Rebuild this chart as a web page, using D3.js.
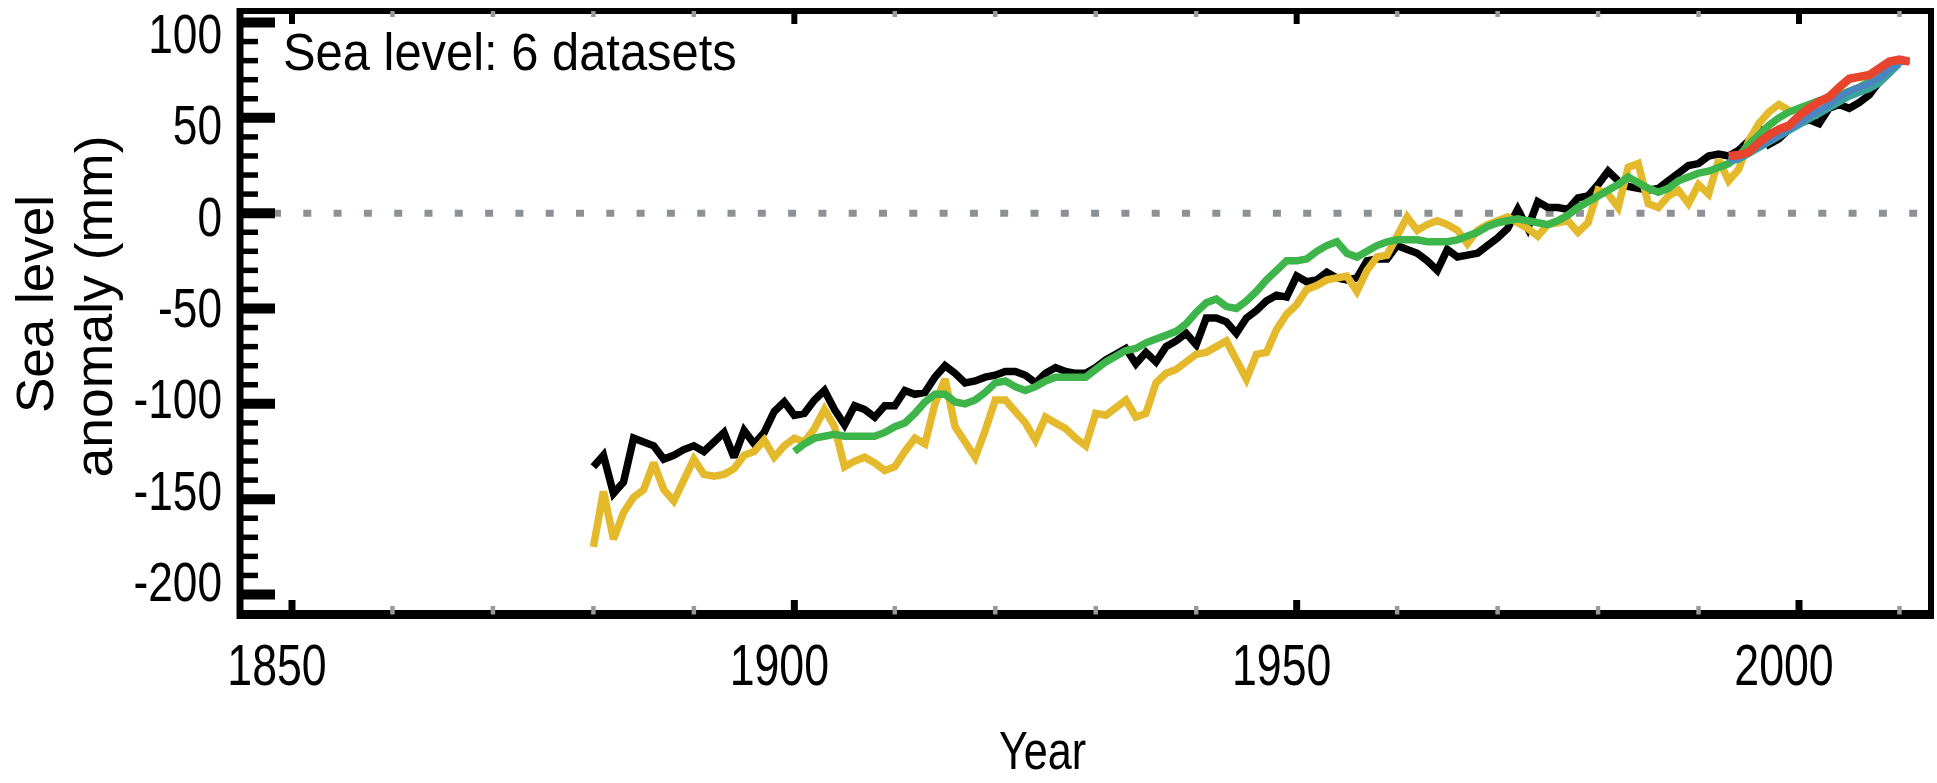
<!DOCTYPE html>
<html><head><meta charset="utf-8">
<script src="https://cdn.jsdelivr.net/npm/d3@7"></script>
<style>
html,body{margin:0;padding:0;background:#fff;}
svg{display:block;}
text{font-family:"Liberation Sans",Arial,Helvetica,sans-serif;fill:#000;}
</style>
</head><body>
<svg id="c" width="1937" height="783"></svg>
<script>
// ---------- data ----------
const titleText = "Sea level: 6 datasets";
const yTitleLines = ["Sea level", "anomaly (mm)"];
const xTitleText = "Year";
const xTickYears = [1850, 1900, 1950, 2000];
const yTickValues = [100, 50, 0, -50, -100, -150, -200];

const blackStart = 1880;
const blackValues = [
 -133,-127,-147,-141,-118,-120,-122,-129,-127,-124,
 -122,-125,-120,-115,-128,-114,-121,-115,-104,-99,
 -106,-105,-98,-93,-103,-111,-101,-103,-107,-101,
 -101,-93,-95,-94,-86,-80,-84,-89,-88,-86,
 -85,-83,-83,-85,-89,-84,-81,-83,-84,-84,
 -81,-77,-74,-71,-79,-73,-78,-70,-67,-63,
 -69,-55,-55,-57,-63,-55,-51,-46,-43,-44,
 -33,-36,-35,-31,-34,-35,-34,-25,-24,-24,
 -17,-19,-21,-25,-30,-19,-23,-22,-21,-17,
 -13,-8,2,-8,6,3,3,2,8,9,
 15,22,17,14,13,12,13,17,21,25,
 26,30,31,30,33,38,45,36,39,44,
 47,49,47,55,57,55,58,62,69,74
];

const yellowStart = 1880;
const yellowValues = [
 -175,-146,-171,-157,-149,-145,-131,-145,-151,-140,
 -129,-137,-138,-137,-134,-127,-125,-119,-128,-122,
 -118,-120,-113,-103,-112,-133,-130,-128,-131,-135,
 -133,-125,-118,-121,-100,-87,-112,-120,-128,-114,
 -98,-98,-104,-110,-119,-107,-110,-113,-118,-122,
 -105,-106,-102,-98,-107,-105,-89,-84,-82,-78,
 -74,-73,-70,-67,-77,-87,-74,-73,-61,-53,
 -48,-40,-38,-35,-34,-33,-41,-30,-23,-22,
 -12,-2,-9,-6,-4,-6,-9,-16,-9,-6,
 -4,-2,-5,-8,-12,-6,-5,-4,-10,-5,
 12,10,3,24,26,5,3,9,12,5,
 15,10,28,17,23,38,47,53,57,54
];

const greenStart = 1900;
const greenValues = [
 -125,-121,-118,-117,-116,-117,-117,-117,-117,-115,
 -112,-110,-105,-99,-95,-95,-99,-100,-98,-94,
 -89,-88,-91,-93,-91,-88,-86,-86,-86,-86,
 -82,-78,-75,-72,-71,-68,-66,-64,-62,-58,
 -52,-47,-45,-49,-50,-46,-41,-35,-30,-25,
 -25,-24,-20,-17,-15,-21,-23,-20,-17,-15,
 -14,-14,-14,-15,-15,-15,-14,-12,-10,-7,
 -5,-4,-3,-4,-5,-6,-4,-1,3,6,
 9,12,15,19,16,13,11,13,17,19,
 21,22,24,26,30,36,41,46,50,53,
 55,57,59,60,62,64,66,69,73,76
];

const tealStart = 1993;
const tealValues = [27,28,31,34,37,40,43,46,49,52,55,58,61,63,65,68,73,78];

const blueStart = 1993;
const blueValues = [28,29,32,35,38,41,44,47,51,54,57,61,64,66,68,71,75,79,80];

const redStart = 1993;
const redValues = [30,30.5,32,37,41,44,46,51,55,58.5,61,66,70.5,71.5,72.5,76,79.5,80.5,79.5];

// ---------- build ----------
const svg = d3.select("#c");
svg.append("rect").attr("width",1937).attr("height",783).attr("fill","#fff");

const x = d3.scaleLinear().domain([1850, 2000]).range([292, 1799]);
const y = d3.scaleLinear().domain([100, -200]).range([22.5, 594.5]);
const yLab = d3.scaleLinear().domain([100, -200]).range([33, 581]);

const L = 240, R = 1931, T = 11, B = 614.5;

function series(start, vals){ return vals.map((v,i)=>({year:start+i, value:v})); }

// zero line
svg.append("line")
  .attr("x1", 273).attr("x2", 1921)
  .attr("y1", y(0)).attr("y2", y(0))
  .attr("stroke", "#8d9196").attr("stroke-width", 7)
  .attr("stroke-dasharray", "8,22.3");

const line = d3.line().x(d=>x(d.year)).y(d=>y(d.value));
const specs = [
  {start:blackStart, vals:blackValues, color:"#000000", w:7.5},
  {start:yellowStart, vals:yellowValues, color:"#e5b92c", w:7.5},
  {start:greenStart, vals:greenValues, color:"#3db54a", w:7.5},
  {start:tealStart, vals:tealValues, color:"#3aa39a", w:6},
  {start:blueStart, vals:blueValues, color:"#4a84c2", w:6.5},
  {start:redStart, vals:redValues, color:"#e8452f", w:8.5}
];
specs.forEach(s=>{
  svg.append("path").datum(series(s.start, s.vals))
    .attr("d", line).attr("fill","none")
    .attr("stroke", s.color).attr("stroke-width", s.w)
    .attr("stroke-linejoin","miter").attr("stroke-miterlimit",2.5);
});

// frame
const frame = svg.append("g");
frame.append("line").attr("x1",L).attr("x2",L).attr("y1",T-3).attr("y2",B+4.5).attr("stroke","#000").attr("stroke-width",7);
frame.append("line").attr("x1",R).attr("x2",R).attr("y1",T-3).attr("y2",B+4.5).attr("stroke","#000").attr("stroke-width",6);
frame.append("line").attr("x1",L-3).attr("x2",R+3).attr("y1",T).attr("y2",T).attr("stroke","#000").attr("stroke-width",6);
frame.append("line").attr("x1",L-3).attr("x2",R+3).attr("y1",B).attr("y2",B).attr("stroke","#000").attr("stroke-width",9);

// y ticks
const yMinor = d3.range(-200, 101, 10);
yMinor.forEach(v=>{
  const major = v % 50 === 0;
  frame.append("line")
    .attr("x1", L).attr("x2", major ? 275 : 258)
    .attr("y1", y(v)).attr("y2", y(v))
    .attr("stroke", "#000").attr("stroke-width", major ? 10 : 5.5);
});

// x ticks (top & bottom)
const xMinor = d3.range(1850, 2011, 10);
xMinor.forEach(yr=>{
  const major = yr % 50 === 0;
  const px = x(yr);
  frame.append("line").attr("x1",px).attr("x2",px)
    .attr("y1", B).attr("y2", major ? 600 : 606)
    .attr("stroke", major ? "#000" : "#999").attr("stroke-width", major ? 7 : 4.5);
  frame.append("line").attr("x1",px).attr("x2",px)
    .attr("y1", T).attr("y2", major ? 24 : 17)
    .attr("stroke", major ? "#000" : "#999").attr("stroke-width", major ? 6 : 4.5);
});

// tick labels
xTickYears.forEach(yr=>{
  svg.append("text")
    .attr("transform", `translate(${x(yr)-15},685) scale(0.77,1)`)
    .attr("text-anchor","middle").attr("font-size",58)
    .text(yr);
});
yTickValues.forEach(v=>{
  svg.append("text")
    .attr("transform", `translate(222,${yLab(v)+20}) scale(0.79,1)`)
    .attr("text-anchor","end").attr("font-size",56)
    .text(v);
});

// titles
svg.append("text")
  .attr("transform","translate(283,70) scale(0.94,1)")
  .attr("font-size",52).text(titleText);

svg.append("text")
  .attr("transform","translate(1042.5,769) scale(0.8,1)")
  .attr("text-anchor","middle").attr("font-size",54).text(xTitleText);

svg.append("text")
  .attr("transform","translate(53,304) rotate(-90) scale(1.04,1)")
  .attr("text-anchor","middle").attr("font-size",51).text(yTitleLines[0]);
svg.append("text")
  .attr("transform","translate(112,306.5) rotate(-90) scale(1.05,1)")
  .attr("text-anchor","middle").attr("font-size",51).text(yTitleLines[1]);
</script>
</body></html>
